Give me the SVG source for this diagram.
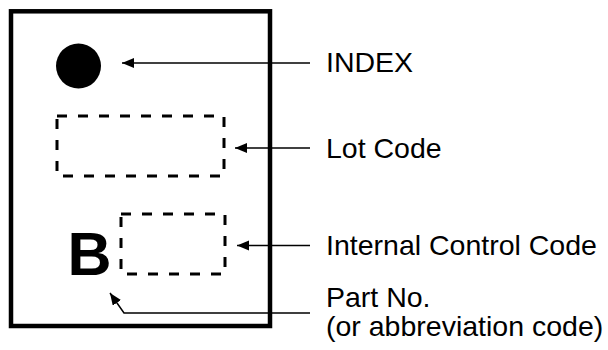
<svg xmlns="http://www.w3.org/2000/svg" width="608" height="350" viewBox="0 0 608 350">
<style>
.lbl{font-family:"Liberation Sans",Arial,sans-serif;font-size:28.5px;fill:#000}
.dash{fill:none;stroke:#000;stroke-width:3;stroke-dasharray:10 11}
.conn{fill:none;stroke:#000;stroke-width:1.5}
</style>
<defs>
<marker id="ah" markerUnits="userSpaceOnUse" markerWidth="13" markerHeight="11" refX="12" refY="5" orient="auto">
<path d="M0,0 L12,5 L0,10 z" fill="#000"/>
</marker>
</defs>
<rect width="608" height="350" fill="#fff"/>
<g id="package">
<rect x="11" y="11.3" width="259" height="314.7" fill="none" stroke="#000" stroke-width="4.5"/>
</g>
<g id="index-mark">
<circle cx="78.5" cy="66" r="22.5" fill="#000"/>
</g>
<g id="lot-code-area">
<rect class="dash" x="57" y="116" width="167" height="60"/>
</g>
<g id="internal-code-area">
<rect class="dash" x="121" y="214" width="104" height="60"/>
</g>
<g id="part-no-mark">
<text x="67.5" y="275" font-family="Liberation Sans, Arial, sans-serif" font-weight="bold" font-size="61">B</text>
</g>
<g id="connectors">
<path class="conn" d="M310,63 H122" marker-end="url(#ah)"/>
<path class="conn" d="M310,148 H235" marker-end="url(#ah)"/>
<path class="conn" d="M310,245.5 H237" marker-end="url(#ah)"/>
<path class="conn" d="M310,313 H124 L110,293" marker-end="url(#ah)"/>
</g>
<g id="labels">
<text class="lbl" x="326" y="72">INDEX</text>
<text class="lbl" x="326" y="157.5">Lot Code</text>
<text class="lbl" x="326" y="255">Internal Control Code</text>
<text class="lbl" x="326" y="307">Part No.</text>
<text class="lbl" x="326" y="336">(or abbreviation code)</text>
</g>
</svg>
